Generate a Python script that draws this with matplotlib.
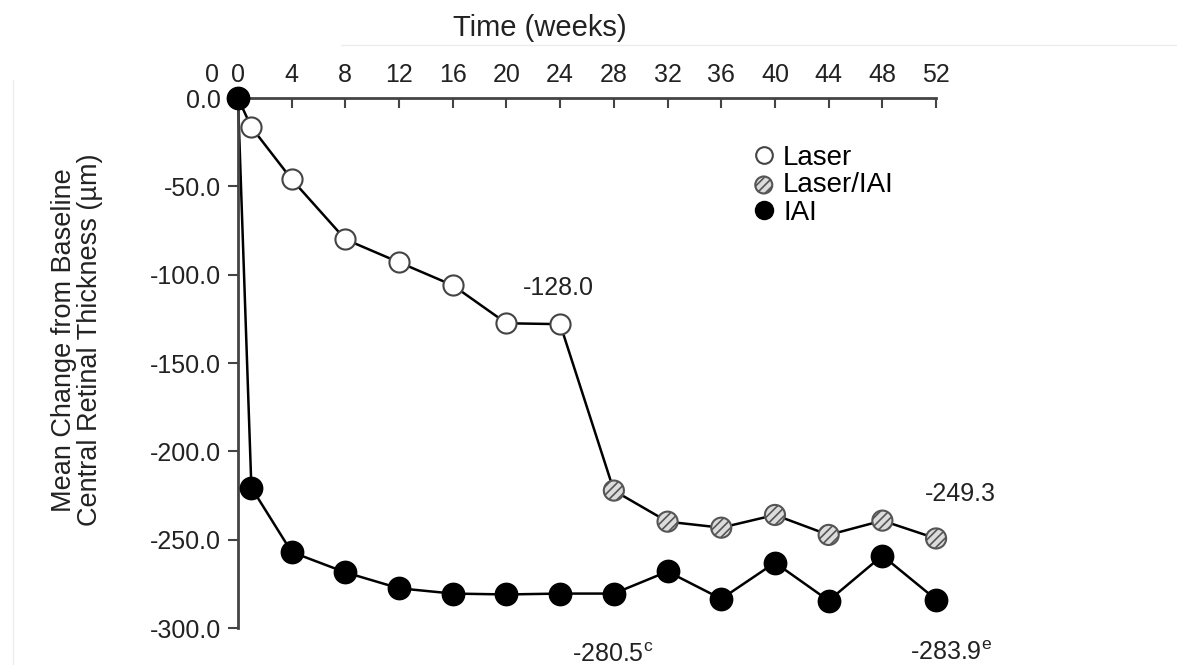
import matplotlib.pyplot as plt
from matplotlib.lines import Line2D

plt.rcParams['font.family'] = ['Liberation Sans', 'DejaVu Sans']
plt.rcParams['mathtext.fontset'] = 'custom'
plt.rcParams['mathtext.rm'] = 'Liberation Sans'
plt.rcParams['hatch.color'] = '#555555'
plt.rcParams['hatch.linewidth'] = 1.2

# weeks of follow-up
weeks = [0, 1, 4, 8, 12, 16, 20, 24, 28, 32, 36, 40, 44, 48, 52]
# laser arm: laser alone up to week 24, then laser/IAI from week 28
laser = [0, -16.5, -46.0, -80.0, -93.0, -106.0, -127.5, -128.0,
         -222.2, -239.8, -243.2, -236.0, -247.3, -239.2, -249.3]
iai = [0, -220.5, -257.0, -268.5, -277.5, -280.5, -281.0, -280.5,
       -280.5, -268.0, -283.5, -263.0, -284.5, -259.0, -283.9]
n_laser_only = 8  # weeks 0..24

# the week axis carries a stray extra "0" label left of the origin
xticks = [-1.9] + list(range(0, 53, 4))
xticklabels = ['0'] + [str(w) for w in range(0, 53, 4)]
yticks = [0, -50, -100, -150, -200, -250, -300]

fig = plt.figure(figsize=(11.77, 6.65), dpi=100)
ax = fig.add_axes([0.1805, 0.0556, 0.6148, 0.7970])

ax.plot(weeks, laser, color='black', lw=1.8, zorder=2, clip_on=False)
ax.plot(weeks, iai, color='black', lw=1.8, zorder=2, clip_on=False)

# open circles: laser only (week 0 sits under the IAI marker)
ax.scatter(weeks[1:n_laser_only], laser[1:n_laser_only], s=210, facecolor='white',
           edgecolor='#444444', linewidth=1.5, zorder=3, clip_on=False)
# hatched circles: laser/IAI
ax.scatter(weeks[n_laser_only:], laser[n_laser_only:], s=210, facecolor='#dcdcdc',
           edgecolor='#555555', linewidth=1.5, hatch='////', zorder=3, clip_on=False)
# filled circles: IAI
ax.scatter(weeks, iai, s=260, facecolor='black', edgecolor='black',
           zorder=4, clip_on=False)

ax.set_xlim(-1.9, 52)
ax.set_ylim(-300, 0)
ax.xaxis.tick_top()
ax.xaxis.set_label_position('top')
ax.set_xticks(xticks)
ax.set_xticklabels(xticklabels)
ax.xaxis.get_major_ticks()[0].tick2line.set_visible(False)
ax.set_yticks(yticks)
ax.set_yticklabels([f'{v:.1f}' for v in yticks])
ax.tick_params(axis='x', direction='in', length=7, width=1.5, colors='#444444',
               labelcolor='#222222', labelsize=18, pad=8)
ax.tick_params(axis='y', direction='out', length=7, width=1.5, colors='#444444',
               labelcolor='#222222', labelsize=18, pad=5)

for side in ['right', 'bottom']:
    ax.spines[side].set_visible(False)
for side in ['top', 'left']:
    ax.spines[side].set_color('#444444')
    ax.spines[side].set_linewidth(2)
ax.spines['left'].set_position(('data', 0))
ax.spines['top'].set_bounds(0, 52)

ax.set_xlabel('Time (weeks)', fontsize=21, color='#222222')
ax.xaxis.set_label_coords(0.4526, 1.117)
ax.set_ylabel('Mean Change from Baseline\nCentral Retinal Thickness (µm)',
              fontsize=19.5, color='#222222', linespacing=1.0)
ax.yaxis.set_label_coords(-0.151, 0.543)

# value labels
ax.text(weeks[7] - 0.1, laser[7] + 20.5, f'{laser[7]:.1f}', ha='center', va='center',
        fontsize=18, color='#222222')
ax.text(weeks[14] + 1.8, laser[14] + 25, f'{laser[14]:.1f}', ha='center', va='center',
        fontsize=18, color='#222222')
ax.text(weeks[8] - 0.1, iai[8] - 34.5, f'{iai[8]:.1f}' + r'$^{\rm c}$', ha='center',
        va='center', fontsize=18, color='#222222', clip_on=False)
ax.text(weeks[14] + 1.1, iai[14] - 30, f'{iai[14]:.1f}' + r'$^{\rm e}$', ha='center',
        va='center', fontsize=18, color='#222222', clip_on=False)

handles = [
    Line2D([], [], ls='none', marker='o', ms=12, mfc='white', mec='#444444', mew=1.5),
    ax.scatter([], [], s=150, facecolor='#dcdcdc', edgecolor='#555555', linewidth=1.5,
               hatch='////'),
    Line2D([], [], ls='none', marker='o', ms=13, mfc='black', mec='black'),
]
ax.legend(handles, ['Laser', 'Laser/IAI', 'IAI'], loc='upper left',
          bbox_to_anchor=(736 / 1177, 1 - 131 / 665), bbox_transform=fig.transFigure,
          frameon=False, fontsize=20, handletextpad=0.2, labelspacing=0.05,
          borderpad=0, handlelength=1.0)

# faint frame around the panel
fig.add_artist(Line2D([0.29, 1.0], [0.932, 0.932], color='#ececec', lw=1))
fig.add_artist(Line2D([0.011, 0.011], [0.0, 0.88], color='#ececec', lw=1))

fig.savefig('out.png', dpi=100)
